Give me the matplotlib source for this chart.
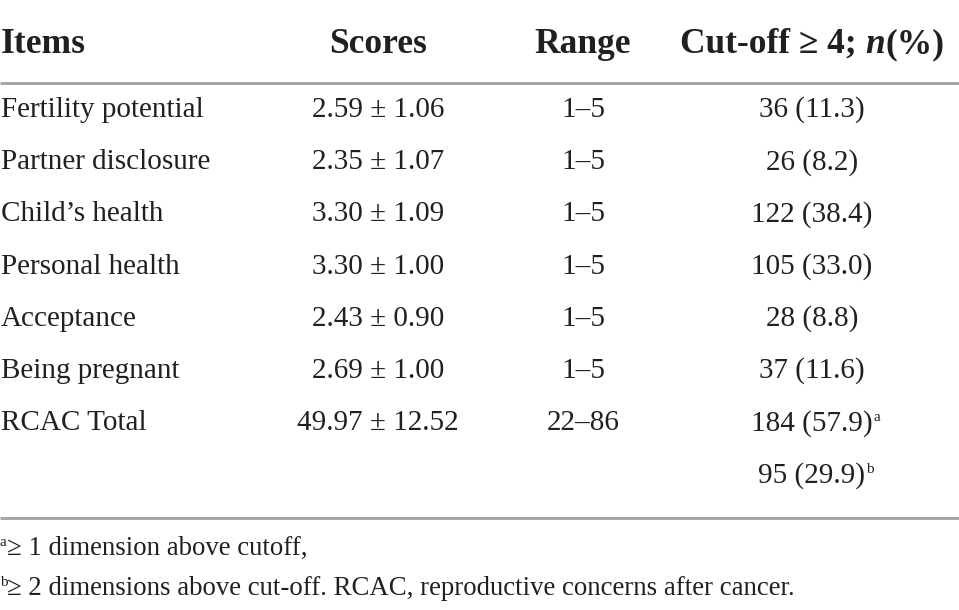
import matplotlib
matplotlib.use('Agg')
import matplotlib.pyplot as plt

# 表格数据
items = ['Fertility potential', 'Partner disclosure', "Child\u2019s health",
         'Personal health', 'Acceptance', 'Being pregnant', 'RCAC Total', '']
scores = ['2.59 \u00b1 1.06', '2.35 \u00b1 1.07', '3.30 \u00b1 1.09', '3.30 \u00b1 1.00',
          '2.43 \u00b1 0.90', '2.69 \u00b1 1.00', '49.97 \u00b1 12.52', '']
ranges = ['1\u20135', '1\u20135', '1\u20135', '1\u20135', '1\u20135', '1\u20135', '22\u201386', '']
cutoff = ['36 (11.3)', '26 (8.2)', '122 (38.4)', '105 (33.0)', '28 (8.8)',
          '37 (11.6)', '184 (57.9)', '95 (29.9)']
cutoff_sup = ['', '', '', '', '', '', 'a', 'b']
headers = ['Items', 'Scores', 'Range', 'Cut-off \u2265 4; ', 'n', '(%)']
notes = ['\u2265 1 dimension above cutoff,',
         '\u2265 2 dimensions above cut-off. RCAC, reproductive concerns after cancer.']
note_sup = ['a', 'b']

plt.rcParams['font.family'] = ['Liberation Serif', 'DejaVu Serif']
W, H = 959, 610
fig = plt.figure(figsize=(W / 100, H / 100), dpi=100)
ax = fig.add_axes([0, 0, 1, 1])
ax.set_xlim(0, W)
ax.set_ylim(H, 0)
ax.axis('off')

txt_color = '#231f20'
line_color = '#a0a0a0'
body = 21
head = 25.5
foot = 19.3
sup = 11

x_items, x_scores, x_range, x_cut = 1, 378, 583, 812
y_head = 53
y0, dy = 117, 52.2

fig.canvas.draw()
r = fig.canvas.get_renderer()
inv = ax.transData.inverted()

def width_of(t):
    bb = t.get_window_extent(renderer=r)
    a = inv.transform((bb.x0, bb.y0))
    b = inv.transform((bb.x1, bb.y1))
    return a[0], b[0]

# 表头
ax.text(x_items, y_head, headers[0], fontsize=head, fontweight='bold', color=txt_color, va='baseline', ha='left')
ax.text(x_scores, y_head, headers[1], fontsize=head, fontweight='bold', color=txt_color, va='baseline', ha='center')
ax.text(x_range, y_head, headers[2], fontsize=head, fontweight='bold', color=txt_color, va='baseline', ha='center')
# 第四列表头分三段拼接（n 用斜体）
parts = [(headers[3], 'normal'), (headers[4], 'italic'), (headers[5], 'normal')]
tmp = [ax.text(0, y_head, p, fontsize=head, fontweight='bold', style=s, va='baseline', ha='left') for p, s in parts]
ws = []
for t in tmp:
    a, b = width_of(t)
    ws.append(b - a)
    t.remove()
x = x_cut - sum(ws) / 2
for (p, s), w in zip(parts, ws):
    ax.text(x, y_head, p, fontsize=head, fontweight='bold', style=s, color=txt_color, va='baseline', ha='left')
    x += w

ax.plot([0, W], [83, 83], color=line_color, lw=2, solid_capstyle='butt')

for i in range(len(items)):
    y = y0 + dy * i
    ax.text(x_items, y, items[i], fontsize=body, color=txt_color, va='baseline', ha='left')
    ax.text(x_scores, y, scores[i], fontsize=body, color=txt_color, va='baseline', ha='center')
    ax.text(x_range, y, ranges[i], fontsize=body, color=txt_color, va='baseline', ha='center')
    t = ax.text(x_cut, y, cutoff[i], fontsize=body, color=txt_color, va='baseline', ha='center')
    if cutoff_sup[i]:
        a, b = width_of(t)
        ax.text(b + 1, y - 9, cutoff_sup[i], fontsize=sup, color=txt_color, va='baseline', ha='left')

ax.plot([0, W], [518, 518], color=line_color, lw=2, solid_capstyle='butt')

for i, (n, s) in enumerate(zip(notes, note_sup)):
    y = 555 + 40 * i
    ax.text(0, y - 9, s, fontsize=sup, color=txt_color, va='baseline', ha='left')
    ax.text(7, y, n, fontsize=foot, color=txt_color, va='baseline', ha='left')

fig.savefig('out.png', dpi=100)
